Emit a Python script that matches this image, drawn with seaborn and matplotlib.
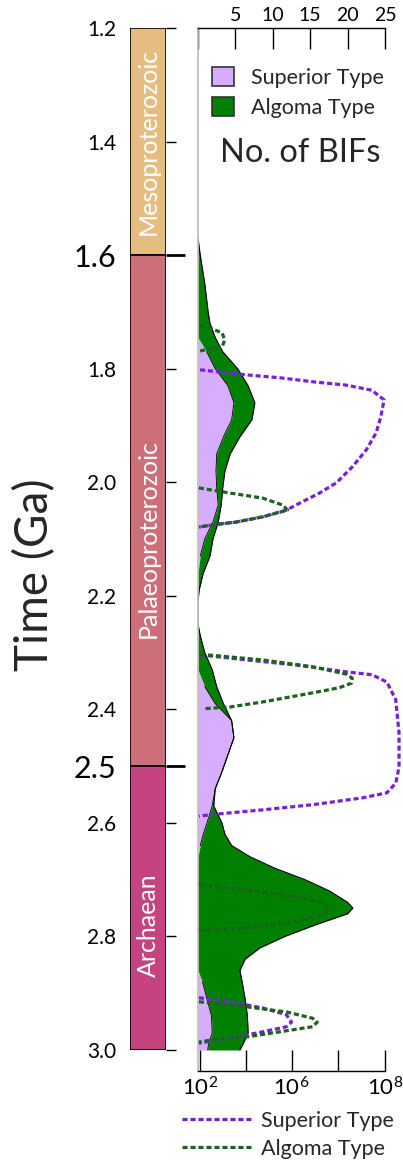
import numpy as np
import pandas as pd
import matplotlib
matplotlib.use("Agg")
import matplotlib.pyplot as plt
from matplotlib.patches import Patch
from matplotlib.lines import Line2D
import seaborn as sns

sns.set_theme(style="white")
plt.rcParams["font.family"] = ["Lato", "DejaVu Sans"]
plt.rcParams["mathtext.fontset"] = "custom"
plt.rcParams["mathtext.rm"] = "Lato"
plt.rcParams["mathtext.it"] = "Lato"

# ---------------- data ----------------
era_names = ["Mesoproterozoic", "Palaeoproterozoic", "Archaean"]
era_start = [1.2, 1.6, 2.5]
era_end = [1.6, 2.5, 3.0]
era_colors = ["#e6bd80", "#cd6f78", "#c5447f"]

age_minor_ticks = [1.2, 1.4, 1.8, 2.0, 2.2, 2.4, 2.6, 2.8, 3.0]
age_major_ticks = [1.6, 2.5]

count_ticks = [0, 5, 10, 15, 20, 25]
count_labels = ["", "5", "10", "15", "20", "25"]

# time grid (Ga) for the stacked number-of-BIF curves
t_grid = [1.57, 1.60, 1.65, 1.70, 1.72, 1.745, 1.77, 1.80, 1.83, 1.86, 1.89, 1.92,
          1.95, 1.98, 2.01, 2.04, 2.07, 2.10, 2.13, 2.16, 2.19, 2.21, 2.25, 2.27,
          2.30, 2.33, 2.36, 2.39, 2.42, 2.45, 2.48, 2.51, 2.54, 2.57, 2.60, 2.62,
          2.64, 2.66, 2.68, 2.70, 2.72, 2.74, 2.75, 2.76, 2.78, 2.80, 2.82, 2.84,
          2.86, 2.88, 2.91, 2.94, 2.97, 2.99, 3.00]
superior_count = [0, 0, 0, 0, 0, 0, 1.15, 2.3, 4.0, 4.8, 4.5, 3.4,
                  2.5, 2.4, 2.5, 2.7, 2.0, 0.9, 0.3, 0, 0, 0, 0, 0,
                  0, 0, 0.9, 2.3, 4.5, 4.8, 4.0, 3.2, 2.3, 1.9, 1.2, 0.7,
                  0.3, 0, 0, 0, 0, 0, 0, 0, 0, 0, 0, 0,
                  0, 0.6, 1.2, 1.8, 1.9, 1.4, 1.3]
algoma_count = [0, 0.3, 0.9, 1.35, 1.6, 2.3, 2.15, 3.0, 2.7, 2.8, 2.7, 2.2,
                1.8, 1.2, 0.8, 0.4, 0.7, 1.1, 1.3, 0.7, 0.15, 0, 0, 0.3,
                0.9, 1.9, 1.6, 1.1, 0, 0, 0, 0, 0, 0.2, 2.0, 2.9,
                4.2, 7.0, 10.3, 14.3, 17.6, 20.0, 20.7, 20.0, 15.6, 11.6, 8.3, 6.3,
                5.6, 5.3, 5.1, 4.8, 4.8, 4.6, 4.3]

# dashed curves: log10 of value vs time, one list per loop
sup_t1 = [1.802, 1.811, 1.816, 1.823, 1.829, 1.838, 1.855, 1.885, 1.913, 1.943, 1.973,
          2.001, 2.019, 2.037, 2.049, 2.061, 2.070, 2.075, 2.079]
sup_l1 = [2.0, 4.04, 5.48, 6.45, 7.17, 7.72, 7.98, 7.91, 7.81, 7.6, 7.3,
          6.96, 6.6, 6.17, 5.78, 4.74, 3.6, 2.57, 1.95]
sup_t2 = [2.304, 2.313, 2.322, 2.334, 2.339, 2.352, 2.383, 2.442, 2.502, 2.530, 2.547,
          2.556, 2.568, 2.577, 2.584, 2.588]
sup_l2 = [2.0, 4.04, 6.1, 7.17, 7.72, 8.04, 8.23, 8.30, 8.30, 8.23, 8.04,
          7.51, 6.45, 4.74, 2.87, 1.95]
sup_t3 = [2.908, 2.915, 2.926, 2.938, 2.951, 2.959, 2.968, 2.979, 2.988]
sup_l3 = [1.95, 3.3, 4.74, 5.78, 6.0, 5.78, 4.74, 3.3, 1.95]

alg_t1 = [1.723, 1.728, 1.737, 1.749, 1.762, 1.765, 1.769]
alg_l1 = [2.0, 2.43, 2.96, 3.09, 2.96, 2.43, 2.0]
alg_t2 = [2.010, 2.019, 2.028, 2.040, 2.049, 2.061, 2.070, 2.075, 2.079]
alg_l2 = [1.95, 3.3, 4.74, 5.6, 5.83, 4.74, 3.6, 2.57, 1.95]
alg_t3 = [2.303, 2.313, 2.325, 2.338, 2.345, 2.354, 2.362, 2.371, 2.387, 2.396, 2.399]
alg_l3 = [2.0, 4.74, 6.45, 7.17, 7.3, 7.28, 7.02, 6.45, 4.74, 3.3, 2.13]
alg_t4 = [2.709, 2.718, 2.730, 2.741, 2.752, 2.762, 2.775, 2.785, 2.789]
alg_l4 = [1.95, 4.04, 6.1, 6.66, 6.81, 6.66, 6.1, 4.04, 1.95]
alg_t5 = [2.915, 2.924, 2.933, 2.944, 2.951, 2.959, 2.968, 2.977, 2.982, 2.986]
alg_l5 = [1.95, 4.04, 5.78, 6.45, 6.55, 6.45, 5.48, 4.04, 2.57, 1.95]

log_ticks_exp = [2, 4, 6, 7, 8]
log_tick_labels = [r"$10^{2}$", "", r"$10^{6}$", "", r"$10^{8}$"]

# ---------------- styles ----------------
PURPLE_FILL = "#d7adff"
GREEN_FILL = "#008000"
PURPLE_DASH = "#7a1edc"
GREEN_DASH = "#1b641b"

W, H = 403, 1172
fig = plt.figure(figsize=(W / 100, H / 100), dpi=100)

def fx(px):
    return px / W

def fy(py):
    return 1 - py / H

y_top_px, y_bot_px = 28, 1050
px_per_ga = (y_bot_px - y_top_px) / 1.8
axis_bot_px = 1071

# ---- era column ----
ax_era = fig.add_axes([fx(130), fy(y_bot_px), fx(36), (y_bot_px - y_top_px) / H])
for name, s, e, c in zip(era_names, era_start, era_end, era_colors):
    ax_era.bar(0, e - s, bottom=s, width=1.0, color=c, edgecolor="black", linewidth=1.2)
ax_era.set_xlim(-0.5, 0.5)
ax_era.set_ylim(3.0, 1.2)
for sp in ax_era.spines.values():
    sp.set_visible(False)
ax_era.set_xticks([])
ax_era.set_yticks(age_major_ticks)
ax_era.set_yticklabels([f"{v:.1f}" for v in age_major_ticks])
ax_era.set_yticks(age_minor_ticks, minor=True)
ax_era.set_yticklabels([f"{v:.1f}" for v in age_minor_ticks], minor=True)
ax_era.tick_params(axis="y", which="both", left=False, right=True,
                   labelleft=True, labelright=False, direction="out", colors="black")
ax_era.tick_params(axis="y", which="major", length=14, width=2.0, labelsize=22, pad=-4)
ax_era.tick_params(axis="y", which="minor", length=7, width=1.0, labelsize=15, pad=3)
label_pos = {"Mesoproterozoic": 1.40, "Palaeoproterozoic": 2.10, "Archaean": 2.78}
for name in era_names:
    ax_era.text(0, label_pos[name], name, rotation=90, ha="center", va="center",
                color="white", fontsize=18)

# ---- main panel: number of BIFs (top axis) ----
main_h_px = axis_bot_px - y_top_px
ax = fig.add_axes([fx(198), fy(axis_bot_px), fx(187), main_h_px / H])
ax.set_facecolor("none")
y_low = 1.2 + main_h_px / px_per_ga
ax.set_ylim(y_low, 1.2)
ax.set_xlim(0, 25)
axl = ax.twiny()

t = np.array(t_grid)
s = np.array(superior_count)
a = np.array(algoma_count)
ax.fill_betweenx(t, 0, s, color=PURPLE_FILL, linewidth=0)
ax.fill_betweenx(t, s, s + a, color=GREEN_FILL, linewidth=0)
ax.plot(s + a, t, color="black", lw=0.8)
ax.plot(np.where(s > 0, s, np.nan), t, color="black", lw=0.6)

ax.xaxis.set_ticks_position("top")
ax.xaxis.set_label_position("top")
ax.set_xticks(count_ticks)
ax.set_xticklabels(count_labels)
ax.tick_params(axis="x", which="major", direction="in", length=15, width=1,
               labelsize=14, pad=3, colors="black", top=True, bottom=False,
               labeltop=True, labelbottom=False)
ax.set_yticks([])
ax.spines["right"].set_visible(False)
ax.spines["bottom"].set_visible(False)
ax.spines["left"].set_color("#bdbdbd")
ax.spines["left"].set_linewidth(1.2)
ax.spines["top"].set_color("black")
ax.spines["top"].set_linewidth(1.0)

# ---- log axis (bottom) ----
def fwd(v):
    v = np.asarray(v, dtype=float)
    l = np.log10(np.clip(v, 1e-300, None))
    return np.where(l <= 6, 23.0 * (l - 2), 92.0 + 47.0 * (l - 6))

def inv(p):
    p = np.asarray(p, dtype=float)
    l = np.where(p <= 92, 2 + p / 23.0, 6 + (p - 92) / 47.0)
    return 10.0 ** l

axl.set_xscale("function", functions=(fwd, inv))
axl.set_xlim(10 ** 1.913, 10 ** 7.99)
axl.set_ylim(y_low, 1.2)
axl.xaxis.set_ticks_position("bottom")
axl.xaxis.set_label_position("bottom")
axl.set_xticks([10.0 ** e for e in log_ticks_exp])
axl.set_xticklabels(log_tick_labels)
axl.xaxis.set_minor_locator(matplotlib.ticker.NullLocator())
axl.tick_params(axis="x", which="major", direction="in", length=15, width=1,
                labelsize=16, pad=4, colors="black", bottom=True, top=False,
                labelbottom=True, labeltop=False)
for k in ["top", "left", "right"]:
    axl.spines[k].set_visible(False)
axl.spines["bottom"].set_color("black")
axl.spines["bottom"].set_linewidth(1.0)

dash_style = (1.6, 0.9)
for tt, ll in [(sup_t1, sup_l1), (sup_t2, sup_l2), (sup_t3, sup_l3)]:
    df = pd.DataFrame({"t": tt, "v": 10.0 ** np.array(ll)})
    sns.lineplot(data=df, x="v", y="t", sort=False, orient="y", ax=axl,
                 color=PURPLE_DASH, lw=2.3, clip_on=False,
                 dashes=False, linestyle=(0, dash_style), legend=False)
for tt, ll in [(alg_t1, alg_l1), (alg_t2, alg_l2), (alg_t3, alg_l3),
               (alg_t4, alg_l4), (alg_t5, alg_l5)]:
    df = pd.DataFrame({"t": tt, "v": 10.0 ** np.array(ll)})
    sns.lineplot(data=df, x="v", y="t", sort=False, orient="y", ax=axl,
                 color=GREEN_DASH, lw=2.3, clip_on=False,
                 dashes=False, linestyle=(0, dash_style), legend=False)
axl.set_xlabel("")
axl.set_ylabel("")
axl.set_yticks([])

# ---- legends and labels ----
top_handles = [Patch(facecolor=PURPLE_FILL, edgecolor="#333333", lw=1.2),
               Patch(facecolor=GREEN_FILL, edgecolor="#333333", lw=1.2)]
fig.legend(top_handles, ["Superior Type", "Algoma Type"], loc="upper left",
           bbox_to_anchor=(fx(212), fy(67)), frameon=False, fontsize=15.5,
           handlelength=1.0, handleheight=1.0, handletextpad=0.8,
           labelspacing=0.42, borderpad=0, borderaxespad=0)
fig.text(fx(300), fy(153), "No. of BIFs", ha="center", va="center", fontsize=23.5)

bot_handles = [Line2D([0], [0], color=PURPLE_DASH, lw=2.3, linestyle=(0, dash_style)),
               Line2D([0], [0], color=GREEN_DASH, lw=2.3, linestyle=(0, dash_style))]
fig.legend(bot_handles, ["Superior Type", "Algoma Type"], loc="upper left",
           bbox_to_anchor=(fx(182), fy(1111)), frameon=False, fontsize=15.5,
           handlelength=3.2, handletextpad=0.45, labelspacing=0.35,
           borderpad=0, borderaxespad=0)

fig.text(fx(35), fy(575), "Time (Ga)", rotation=90, ha="center", va="center",
         fontsize=33)

fig.savefig("out.png", dpi=100)
